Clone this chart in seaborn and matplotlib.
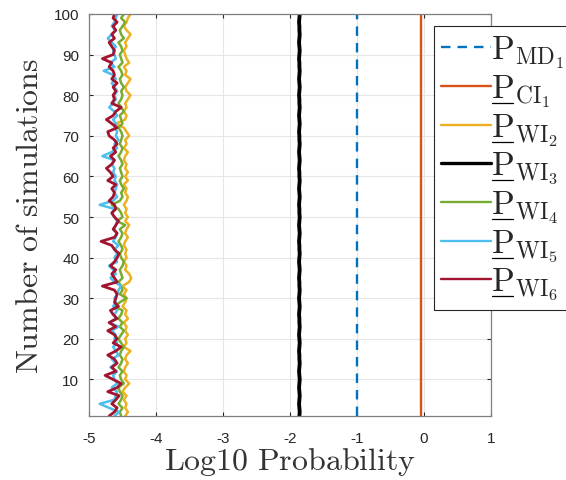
import numpy as np
import pandas as pd
import matplotlib
matplotlib.use("Agg")
import matplotlib.pyplot as plt
from matplotlib.lines import Line2D
import seaborn as sns

sims = list(range(1, 101))

p_md1 = [-1.0] * 100
p_ci1 = [-0.05] * 100
p_wi3 = [-1.86, -1.855, -1.86, -1.865, -1.86, -1.855, -1.86, -1.865, -1.86, -1.855,
         -1.86, -1.865, -1.86, -1.855, -1.86, -1.86, -1.865, -1.86, -1.855, -1.86,
         -1.865, -1.86, -1.855, -1.86, -1.86, -1.865, -1.86, -1.855, -1.86, -1.865,
         -1.86, -1.855, -1.86, -1.86, -1.865, -1.86, -1.855, -1.86, -1.865, -1.86,
         -1.855, -1.86, -1.86, -1.865, -1.86, -1.855, -1.86, -1.865, -1.86, -1.855,
         -1.86, -1.86, -1.865, -1.86, -1.855, -1.86, -1.865, -1.86, -1.855, -1.86,
         -1.86, -1.865, -1.86, -1.855, -1.86, -1.865, -1.86, -1.855, -1.86, -1.86,
         -1.865, -1.86, -1.855, -1.86, -1.865, -1.86, -1.855, -1.86, -1.86, -1.865,
         -1.86, -1.855, -1.86, -1.865, -1.86, -1.855, -1.86, -1.86, -1.865, -1.86,
         -1.855, -1.86, -1.865, -1.86, -1.855, -1.86, -1.86, -1.865, -1.86, -1.855]
p_wi2 = [-4.46, -4.42, -4.46, -4.44, -4.48, -4.44, -4.50, -4.46, -4.40, -4.46,
         -4.44, -4.48, -4.46, -4.42, -4.46, -4.44, -4.38, -4.48, -4.44, -4.46,
         -4.42, -4.46, -4.44, -4.48, -4.42, -4.46, -4.44, -4.50, -4.46, -4.44,
         -4.48, -4.44, -4.50, -4.40, -4.37, -4.40, -4.46, -4.44, -4.48, -4.44,
         -4.46, -4.44, -4.48, -4.46, -4.42, -4.46, -4.44, -4.40, -4.46, -4.42,
         -4.46, -4.44, -4.48, -4.44, -4.42, -4.46, -4.44, -4.48, -4.42, -4.46,
         -4.42, -4.46, -4.44, -4.48, -4.46, -4.42, -4.48, -4.44, -4.46, -4.40,
         -4.44, -4.48, -4.60, -4.46, -4.44, -4.48, -4.44, -4.46, -4.42, -4.38,
         -4.44, -4.46, -4.42, -4.38, -4.46, -4.44, -4.48, -4.40, -4.44, -4.46,
         -4.48, -4.44, -4.46, -4.42, -4.38, -4.44, -4.48, -4.44, -4.42, -4.38]
p_wi4 = [-4.52, -4.54, -4.50, -4.56, -4.52, -4.50, -4.54, -4.56, -4.48, -4.52,
         -4.54, -4.50, -4.56, -4.52, -4.50, -4.54, -4.52, -4.48, -4.52, -4.56,
         -4.52, -4.48, -4.54, -4.50, -4.56, -4.52, -4.50, -4.62, -4.54, -4.44,
         -4.54, -4.50, -4.52, -4.56, -4.50, -4.52, -4.54, -4.50, -4.48, -4.52,
         -4.54, -4.50, -4.52, -4.56, -4.52, -4.50, -4.54, -4.46, -4.58, -4.50,
         -4.52, -4.56, -4.66, -4.54, -4.50, -4.52, -4.48, -4.52, -4.54, -4.50,
         -4.52, -4.54, -4.50, -4.52, -4.56, -4.52, -4.50, -4.54, -4.52, -4.50,
         -4.52, -4.56, -4.50, -4.52, -4.54, -4.48, -4.52, -4.56, -4.52, -4.50,
         -4.52, -4.48, -4.52, -4.54, -4.50, -4.52, -4.56, -4.50, -4.52, -4.54,
         -4.50, -4.52, -4.56, -4.48, -4.52, -4.54, -4.50, -4.46, -4.52, -4.48]
p_wi5 = [-4.62, -4.55, -4.70, -4.84, -4.62, -4.60, -4.58, -4.66, -4.58, -4.62,
         -4.64, -4.58, -4.68, -4.60, -4.66, -4.56, -4.60, -4.64, -4.58, -4.62,
         -4.60, -4.66, -4.56, -4.70, -4.60, -4.62, -4.58, -4.64, -4.60, -4.62,
         -4.58, -4.56, -4.52, -4.62, -4.68, -4.60, -4.64, -4.70, -4.58, -4.62,
         -4.58, -4.62, -4.56, -4.64, -4.60, -4.58, -4.62, -4.60, -4.58, -4.62,
         -4.66, -4.62, -4.84, -4.64, -4.58, -4.62, -4.60, -4.58, -4.62, -4.60,
         -4.64, -4.62, -4.66, -4.62, -4.80, -4.66, -4.58, -4.62, -4.56, -4.60,
         -4.58, -4.62, -4.60, -4.64, -4.58, -4.62, -4.70, -4.64, -4.60, -4.62,
         -4.58, -4.62, -4.66, -4.60, -4.64, -4.78, -4.62, -4.68, -4.60, -4.62,
         -4.64, -4.60, -4.66, -4.72, -4.66, -4.60, -4.66, -4.62, -4.60, -4.58]
p_wi6 = [-4.70, -4.62, -4.58, -4.66, -4.60, -4.55, -4.72, -4.58, -4.52, -4.64,
         -4.76, -4.60, -4.66, -4.58, -4.62, -4.72, -4.60, -4.52, -4.64, -4.58,
         -4.62, -4.72, -4.60, -4.70, -4.58, -4.64, -4.68, -4.56, -4.62, -4.60,
         -4.58, -4.62, -4.80, -4.58, -4.62, -4.66, -4.60, -4.68, -4.62, -4.58,
         -4.55, -4.62, -4.66, -4.82, -4.62, -4.58, -4.64, -4.60, -4.56, -4.62,
         -4.66, -4.60, -4.62, -4.70, -4.64, -4.62, -4.66, -4.60, -4.72, -4.64,
         -4.68, -4.74, -4.66, -4.62, -4.68, -4.60, -4.64, -4.58, -4.62, -4.70,
         -4.72, -4.58, -4.66, -4.74, -4.64, -4.60, -4.52, -4.66, -4.62, -4.64,
         -4.60, -4.64, -4.58, -4.66, -4.62, -4.64, -4.70, -4.66, -4.80, -4.64,
         -4.62, -4.66, -4.70, -4.62, -4.66, -4.60, -4.64, -4.58, -4.64, -4.62]

labels = [r'$\mathrm{P}_{\mathrm{MD}_1}$',
          r'$\mathrm{P}_{\mathrm{CI}_1}$',
          r'$\mathrm{P}_{\mathrm{WI}_2}$',
          r'$\mathrm{P}_{\mathrm{WI}_3}$',
          r'$\mathrm{P}_{\mathrm{WI}_4}$',
          r'$\mathrm{P}_{\mathrm{WI}_5}$',
          r'$\mathrm{P}_{\mathrm{WI}_6}$']
underlined = [False, True, True, True, True, True, True]
series = [p_md1, p_ci1, p_wi2, p_wi3, p_wi4, p_wi5, p_wi6]
colors = ['#0072BD', '#D95319', '#EDB120', '#000000', '#77AC30', '#4DBEEE', '#A2142F']
widths = [1.7, 1.7, 1.8, 2.8, 1.8, 1.8, 2.0]
dashes = [(4, 3), None, None, None, None, None, None]

sns.set_style("white")
plt.rcParams['mathtext.fontset'] = 'cm'
plt.rcParams['font.family'] = ['Liberation Sans', 'DejaVu Sans']

fig = plt.figure(figsize=(5.66, 4.81), dpi=100)
ax = fig.add_axes([89/566, 1-417/481, (491-89)/566, (417-15)/481])

for vals, lab, col, lw, ds in zip(series, labels, colors, widths, dashes):
    df = pd.DataFrame({'x': vals, 'y': sims})
    sns.lineplot(data=df, x='x', y='y', sort=False, ax=ax, color=col,
                 linewidth=lw, label=lab, estimator=None)
    if ds is not None:
        ax.lines[-1].set_dashes(ds)

ax.set_xlim(-5, 1)
ax.set_ylim(1, 100)
ax.set_xticks([-5, -4, -3, -2, -1, 0, 1])
ax.set_xticklabels(['-5', '-4', '-3', '-2', '-1', '0', '1'])
ax.set_yticks(range(10, 101, 10))
ax.grid(True, color='#e6e6e6', linewidth=0.8)
ax.tick_params(direction='in', length=3, labelsize=11, colors='#262626',
               top=True, right=True, bottom=True, left=True)
ax.tick_params(axis='x', pad=11)
ax.tick_params(axis='y', pad=7)
for s in ax.spines.values():
    s.set_color('#7f7f7f')
    s.set_linewidth(0.9)
ax.set_xlabel(r'$\mathrm{Log10\ Probability}$', fontsize=23, color='#333333', labelpad=0)
ax.set_ylabel(r'$\mathrm{Number\ of\ simulations}$', fontsize=23, color='#333333', labelpad=6)

LFS = 24
leg = ax.legend(loc='upper left', bbox_to_anchor=(434/566, 1-27/481),
                bbox_transform=fig.transFigure, fontsize=LFS, handlelength=1.5,
                handletextpad=0.0, labelspacing=0.07, borderpad=0.22,
                frameon=True, fancybox=False, framealpha=1, borderaxespad=0)
leg.get_frame().set_edgecolor('#262626')
leg.get_frame().set_linewidth(0.8)
for h in leg.get_lines():
    h.set_linewidth(2.4 if h.get_color() == '#000000' else 1.7)

# underline the "P" in legend labels
fig.canvas.draw()
renderer = fig.canvas.get_renderer()
tmp = fig.text(0, 0, r'$\mathrm{P}$', fontsize=LFS)
pw = tmp.get_window_extent(renderer).width
tmp.remove()
for t, u in zip(leg.get_texts(), underlined):
    if not u:
        continue
    bb = t.get_window_extent(renderer)
    y = bb.y0 + 6
    x0 = bb.x0 + 1
    x1 = bb.x0 + pw - 1
    fig.add_artist(Line2D([x0 / fig.bbox.width, x1 / fig.bbox.width],
                          [y / fig.bbox.height, y / fig.bbox.height],
                          transform=fig.transFigure, color='black', linewidth=0.9,
                          zorder=10))

fig.savefig('out.png', dpi=100)
